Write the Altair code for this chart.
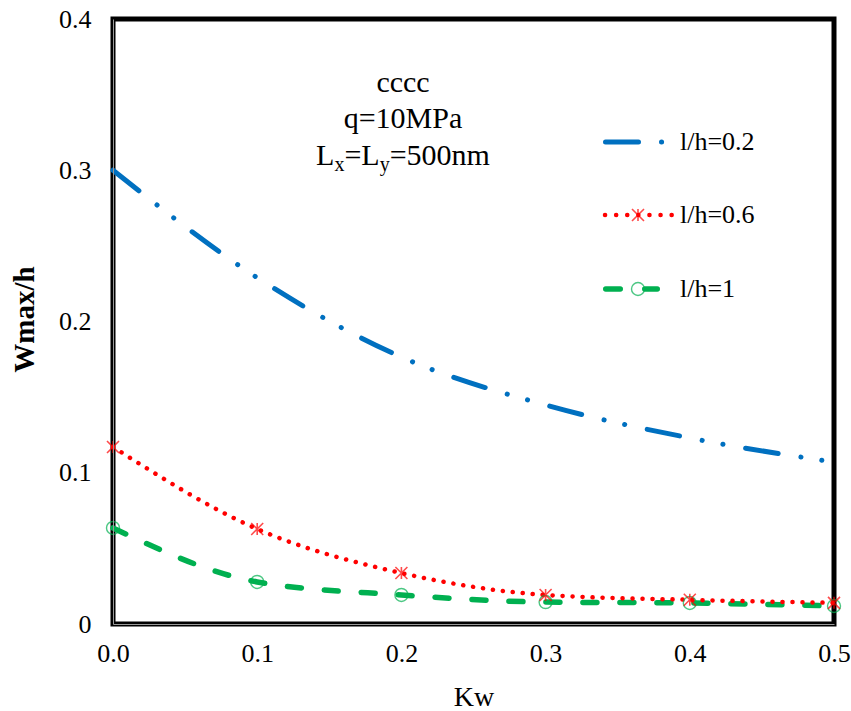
import altair as alt
import pandas as pd

# ---- data ----
kw = [0.0, 0.1, 0.2, 0.3, 0.4, 0.5]
w_lh02 = [0.300, 0.229, 0.1765, 0.1448, 0.123, 0.107]
w_lh06 = [0.117, 0.0628, 0.0337, 0.0192, 0.016, 0.014]
w_lh1 = [0.0635, 0.0278, 0.0192, 0.0145, 0.0139, 0.0119]
series_names = ["l/h=0.2", "l/h=0.6", "l/h=1"]
x_ticks = [0.0, 0.1, 0.2, 0.3, 0.4, 0.5]
y_ticks = [0.0, 0.1, 0.2, 0.3, 0.4]
annot_lines = ["cccc", "q=10MPa"]

W, H = 721, 605
FONT = "Liberation Serif"
BLUE, RED, GREEN = "#0070C0", "#FF0000", "#00B050"

df = pd.DataFrame({
    "kw": kw * 3,
    "w": w_lh02 + w_lh06 + w_lh1,
    "series": [series_names[0]] * 6 + [series_names[1]] * 6 + [series_names[2]] * 6,
})

xs = alt.Scale(domain=[0, 0.5], nice=False, zero=False)
ys = alt.Scale(domain=[0, 0.4], nice=False)

xaxis = alt.Axis(values=x_ticks, format=".1f", ticks=False, grid=False,
                 labelFont=FONT, labelFontSize=26, labelColor="black",
                 labelPadding=16, labelFlush=False, labelOverlap=False,
                 domainColor="#999999", domainWidth=1,
                 title="Kw", titleFont=FONT, titleFontSize=28, titleFontWeight="normal",
                 titleColor="black", titleX=W / 2, titleY=81, titleBaseline="alphabetic",
                 titleAlign="center", zindex=1)
yaxis = alt.Axis(values=y_ticks,
                 labelExpr="datum.value == 0 ? '0' : format(datum.value, '.1f')",
                 ticks=False, grid=False,
                 labelFont=FONT, labelFontSize=26, labelColor="black",
                 labelPadding=22, labelFlush=False, labelOverlap=False,
                 domainColor="#999999", domainWidth=1,
                 title="Wmax/h", titleFont=FONT, titleFontSize=29, titleFontWeight="bold",
                 titleColor="black", titleAngle=-90, titleX=-89, titleY=300,
                 titleBaseline="middle", titleAlign="center", zindex=1)

base = alt.Chart(df)
X = alt.X("kw:Q", scale=xs, axis=xaxis)
Y = alt.Y("w:Q", scale=ys, axis=yaxis)


def series_line(name, color, dash, width):
    return base.transform_filter(alt.datum.series == name).mark_line(
        color=color, strokeDash=dash, strokeWidth=width, strokeCap="round",
        interpolate="monotone", clip=False
    ).encode(x=X, y=Y)


blue_line = series_line(series_names[0], BLUE, [33, 23, 0.1, 21, 0.1, 23], 5)
green_line = series_line(series_names[2], GREEN, [14, 23], 5.5)
red_line = series_line(series_names[1], RED, [0.1, 9.9], 4.5)

STAR = "M-1,-1L1,1M-1,1L1,-1M0,-1L0,1"
green_pts = base.transform_filter(alt.datum.series == series_names[2]).mark_point(
    shape="circle", filled=False, color=GREEN, size=169, strokeWidth=1.4, clip=False
).encode(x=X, y=Y)
red_pts = base.transform_filter(alt.datum.series == series_names[1]).mark_point(
    shape=STAR, filled=False, color=RED, size=144, strokeWidth=1.6, clip=False
).encode(x=X, y=Y)

# ---- legend (drawn manually, pixel positions inside the plot area) ----
one = pd.DataFrame({"a": [0]})
leg_y = [123, 196, 270]
leg_blue = alt.Chart(one).mark_rule(color=BLUE, strokeWidth=5, strokeCap="round",
                                    strokeDash=[33, 23, 0.1, 21, 0.1, 23]).encode(
    x=alt.value(492.5), x2=alt.value(560), y=alt.value(leg_y[0]))
leg_red = alt.Chart(one).mark_rule(color=RED, strokeWidth=4.5, strokeCap="round",
                                   strokeDash=[0.1, 11]).encode(
    x=alt.value(492), x2=alt.value(560), y=alt.value(leg_y[1]))
leg_red_pt = alt.Chart(one).mark_point(shape=STAR, filled=False, color=RED, size=144,
                                       strokeWidth=1.6).encode(
    x=alt.value(525), y=alt.value(leg_y[1]))
leg_green = alt.Chart(one).mark_rule(color=GREEN, strokeWidth=5.5, strokeCap="round",
                                     strokeDash=[14.5, 24.5]).encode(
    x=alt.value(492.75), x2=alt.value(544.25), y=alt.value(leg_y[2]))
leg_green_pt = alt.Chart(one).mark_point(shape="circle", filled=False, color=GREEN, size=169,
                                         strokeWidth=1.4).encode(
    x=alt.value(525), y=alt.value(leg_y[2]))
leg_text_df = pd.DataFrame({"t": series_names, "py": leg_y, "px": [567] * 3})
leg_text = alt.Chart(leg_text_df).mark_text(align="left", baseline="middle", font=FONT,
                                            fontSize=26, color="black").encode(
    x=alt.X("px:Q", scale=None), y=alt.Y("py:Q", scale=None), text="t:N")

# ---- annotation text ----
AF = 30
SF = 20
cx = 290
pieces = [("L", AF, 0), ("x", SF, 6), ("=L", AF, 0), ("y", SF, 6), ("=500nm", AF, 0)]
adv = {"L": 0.611, "x": 0.5, "=": 0.564, "y": 0.5, "5": 0.5, "0": 0.5, "n": 0.5, "m": 0.778}
widths = [sum(adv[c] for c in t) * s for t, s, _ in pieces]
start = cx - sum(widths) / 2
rows = []
for t, y in zip(annot_lines, [73, 109]):
    rows.append({"t": t, "px": cx, "py": y, "fs": AF, "al": "center"})
x0 = start
for (t, s, off), wdt in zip(pieces, widths):
    rows.append({"t": t, "px": x0, "py": 146 + off, "fs": s, "al": "left"})
    x0 += wdt
ann_df = pd.DataFrame(rows)
ann_c = alt.Chart(ann_df).transform_filter(alt.datum.al == "center").mark_text(
    align="center", baseline="alphabetic", font=FONT, color="black").encode(
    x=alt.X("px:Q", scale=None), y=alt.Y("py:Q", scale=None),
    text="t:N", size=alt.Size("fs:Q", scale=None, legend=None))
ann_l = alt.Chart(ann_df).transform_filter(alt.datum.al == "left").mark_text(
    align="left", baseline="alphabetic", font=FONT, color="black").encode(
    x=alt.X("px:Q", scale=None), y=alt.Y("py:Q", scale=None),
    text="t:N", size=alt.Size("fs:Q", scale=None, legend=None))

chart = alt.layer(
    blue_line, green_line, red_line, green_pts, red_pts,
    leg_blue, leg_red, leg_red_pt, leg_green, leg_green_pt, leg_text,
    ann_c, ann_l,
).properties(
    width=W, height=H,
    padding={"left": 113, "top": 19, "right": 17, "bottom": 87},
    autosize=alt.AutoSizeParams(type="none"),
    background="white",
).configure_view(stroke="black", strokeWidth=5)

chart.save("out.html", embed_options={"renderer": "svg", "actions": False})
